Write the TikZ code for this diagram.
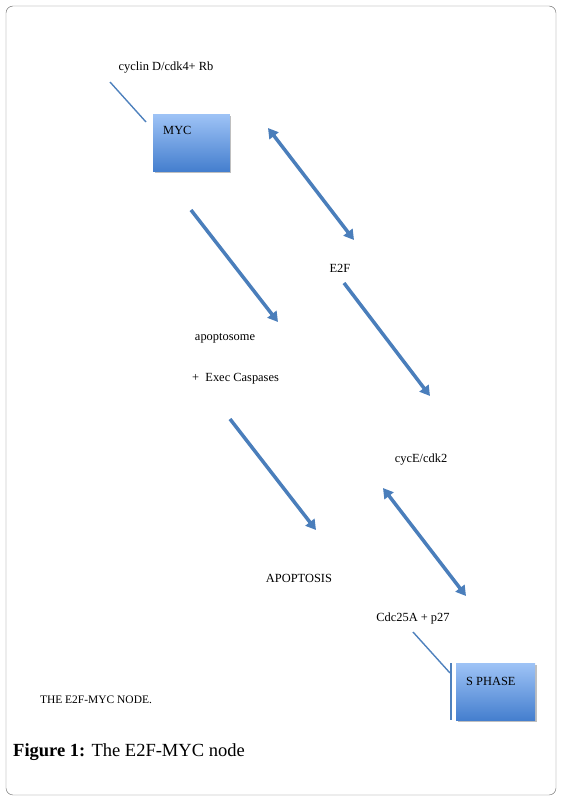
\documentclass[tikz,border=0pt]{standalone}
\usepackage{fontspec}
\setmainfont{Liberation Serif}
\usetikzlibrary{arrows.meta}
\definecolor{arrowblue}{RGB}{74,126,187}
\definecolor{linkblue}{RGB}{79,129,189}
\definecolor{boxtop}{RGB}{158,195,246}
\definecolor{boxbot}{RGB}{68,126,206}
\definecolor{framegray}{RGB}{110,110,110}
\tikzset{
  lbl/.style={font=\fontsize{10.6}{12}\selectfont, inner sep=0pt},
  phase/.style={shade, top color=boxtop, bottom color=boxbot, inner sep=0pt,
    minimum width=2.3cm, minimum height=1.72cm},
  boxshadow/.style={fill=black!25},
  link/.style={draw=linkblue, line width=1.2pt},
  flow/.style={draw=arrowblue, line width=3pt, -{Triangle[length=8.5pt,width=9.5pt]}},
  bothflow/.style={draw=arrowblue, line width=3pt,
    {Triangle[length=8.5pt,width=9.5pt]}-{Triangle[length=8.5pt,width=9.5pt]}}
}

\begin{document}
\begin{tikzpicture}[x=0.03cm, y=-0.03cm]
    \useasboundingbox (0,0) rectangle (561,801);
    \draw[framegray, rounded corners=6pt] (6,6) rectangle (556,795);

    % boxes
    \fill[boxshadow] (155,116) rectangle (231,173);
    \node[phase, anchor=north west] (myc) at (153,114) {};
    \node[lbl, anchor=west] (myctxt) at ([xshift=10*0.03cm, yshift=-16*0.03cm]myc.north west) {MYC};
    \fill[boxshadow] (458,665) rectangle (537,722);
    \node[phase, anchor=north west, minimum width=2.37cm] (sphase) at (456,663) {};
    \node[lbl, anchor=west] (sphasetxt) at ([xshift=10*0.03cm, yshift=-18*0.03cm]sphase.north west) {S PHASE};

    % labels
    \node[lbl] (cyclin) at (166,68) {cyclin D/cdk4+ Rb};
    \node[lbl] (e2f) at (340,268) {E2F};
    \node[lbl] (apopt) at (225,338) {apoptosome};
    \node[lbl, anchor=west] (caspase) at (192,379) {+\ \ Exec Caspases};
    \node[lbl] (cyce) at (421,460) {cycE/cdk2};
    \node[lbl] (apoptosis) at (299,578) {APOPTOSIS};
    \node[lbl] (cdc) at (413,619) {Cdc25A + p27};
    \node[lbl, font=\fontsize{9.8}{11}\selectfont] (title) at (96,700) {THE E2F-MYC NODE.};
    \node[anchor=west, inner sep=0pt, font=\fontsize{15.8}{18}\selectfont] (caption) at (13,752)
      {\textbf{Figure 1:} The E2F-MYC node};

    % connector ends
    \coordinate (cyclinend) at (110,82);
    \coordinate (mycin) at (146,122);
    \coordinate (mycout) at (268,128);
    \coordinate (e2fin) at (354,240);
    \coordinate (mycdown) at (191,210);
    \coordinate (apoptin) at (278,322);
    \coordinate (e2fout) at (344,283);
    \coordinate (cycein) at (430,396);
    \coordinate (caspout) at (230,419);
    \coordinate (apoptosisin) at (316,530);
    \coordinate (ceyout) at (383,488);
    \coordinate (cdcin) at (466,596);
    \coordinate (cdcend) at (413,632);
    \coordinate (sphasein) at (450,673);
    \coordinate (bartop) at (451,663);
    \coordinate (barbot) at (451,720);

    \draw[link] (cyclinend) -- (mycin);
    \draw[link] (cdcend) -- (sphasein);
    \draw[link] (bartop) -- (barbot);
    \draw[bothflow] (mycout) -- (e2fin);
    \draw[flow] (mycdown) -- (apoptin);
    \draw[flow] (e2fout) -- (cycein);
    \draw[flow] (caspout) -- (apoptosisin);
    \draw[bothflow] (ceyout) -- (cdcin);
\end{tikzpicture}
\end{document}
